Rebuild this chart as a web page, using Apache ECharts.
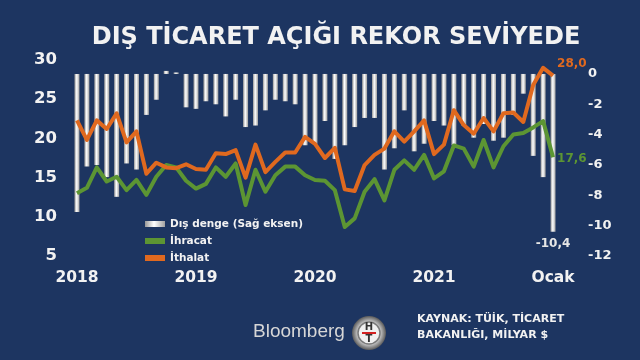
<!DOCTYPE html>
<html>
<head>
<meta charset="utf-8">
<script src="https://cdn.jsdelivr.net/npm/echarts@6/dist/echarts.min.js"></script>
<style>
html,body{margin:0;padding:0;background:#1d3561;}
#chart{width:640px;height:360px;}
</style>
</head>
<body>
<div id="chart"></div>
<script>
// Months Jan 2018 .. Jan 2022
var categories = [
 '2018-01','2018-02','2018-03','2018-04','2018-05','2018-06','2018-07','2018-08','2018-09','2018-10','2018-11','2018-12',
 '2019-01','2019-02','2019-03','2019-04','2019-05','2019-06','2019-07','2019-08','2019-09','2019-10','2019-11','2019-12',
 '2020-01','2020-02','2020-03','2020-04','2020-05','2020-06','2020-07','2020-08','2020-09','2020-10','2020-11','2020-12',
 '2021-01','2021-02','2021-03','2021-04','2021-05','2021-06','2021-07','2021-08','2021-09','2021-10','2021-11','2021-12',
 '2022-01'
];
// x tick labels (category index -> text)
var xTickIndex = [0, 12, 24, 36, 48];
var xTickLabels = ['2018', '2019', '2020', '2021', 'Ocak'];

// Exports (İhracat), billion $
var ihracat = [
 13.0,13.7,16.3,14.5,15.1,13.4,14.7,12.8,15.1,16.6,16.3,14.6,
 13.6,14.2,16.3,15.1,16.8,11.5,16.0,13.2,15.3,16.4,16.4,15.3,
 14.7,14.6,13.4,8.7,9.8,13.2,14.8,12.1,16.0,17.2,16.0,17.9,
 14.9,15.8,19.1,18.7,16.4,19.8,16.3,19.0,20.5,20.7,21.4,22.2,
 17.6
];
// Imports (İthalat), billion $
var ithalat = [
 22.3,19.8,22.3,21.2,23.2,19.5,20.9,15.5,16.9,16.3,16.2,16.7,
 16.1,16.0,18.1,18.0,18.5,15.0,19.2,15.7,17.0,18.2,18.2,20.2,
 19.3,17.5,18.8,13.5,13.3,16.6,17.9,18.7,20.9,19.6,20.9,22.3,
 18.0,19.2,23.6,21.7,20.6,22.6,20.9,23.2,23.3,22.1,26.8,29.0,
 28.0
];
// Trade balance (Dış denge), right axis
var disDenge = [
 -9.1,-6.1,-6.0,-6.8,-8.1,-5.9,-6.3,-2.7,-1.7,0.2,0.1,-2.2,
 -2.3,-1.8,-2.0,-2.8,-1.7,-3.5,-3.4,-2.4,-1.7,-1.8,-2.0,-4.7,
 -4.6,-3.1,-5.6,-4.7,-3.5,-2.9,-2.9,-6.3,-4.9,-2.4,-5.1,-4.6,
 -3.1,-3.4,-4.7,-3.4,-4.2,-3.3,-4.4,-4.2,-2.7,-1.3,-5.4,-6.8,
 -10.4
];
var leftTicks = [5, 30, 5];      // min, max, interval
var rightTicks = [-12, 0, 2];    // min, last label, interval

var BG = '#1d3561';
var ORANGE = '#e0691f';
var GREEN = '#5c9533';
var WHITE = '#f2f2f2';
var FONT = '"DejaVu Sans", Verdana, sans-serif';

function fmt(v){ return Number(v).toFixed(1).replace('.', ','); }

var barGrad = new echarts.graphic.LinearGradient(0, 0, 1, 0, [
  {offset: 0, color: '#979797'},
  {offset: 0.45, color: '#ffffff'},
  {offset: 1, color: '#a0a0a0'}
]);

var barData = disDenge.map(function(v, i){
  if (i === disDenge.length - 1) {
    return {value: v, label: {show: true, position: 'bottom', distance: 6,
      formatter: function(p){ return fmt(p.value); },
      color: '#e6e6e6', fontFamily: FONT, fontWeight: 'bold', fontSize: 12}};
  }
  return v;
});

var chart = echarts.init(document.getElementById('chart'), null, {renderer: 'canvas'});
chart.setOption({
  backgroundColor: BG,
  animation: false,
  title: {
    text: 'DIŞ TİCARET AÇIĞI REKOR SEVİYEDE',
    left: 331, top: 21, textAlign: 'center',
    textStyle: {color: WHITE, fontFamily: FONT, fontWeight: 'bold', fontSize: 24}
  },
  legend: {
    orient: 'vertical', left: 140, top: 213,
    itemWidth: 20, itemHeight: 6, itemGap: 5,
    textStyle: {color: WHITE, fontFamily: FONT, fontWeight: 'bold', fontSize: 10.5, lineHeight: 12},
    data: [
      {name: 'Dış denge (Sağ eksen)', icon: 'rect', itemStyle: {color: barGrad}},
      {name: 'İhracat', icon: 'rect', itemStyle: {color: GREEN}},
      {name: 'İthalat', icon: 'rect', itemStyle: {color: ORANGE}}
    ]
  },
  grid: {left: 72, right: 82, top: 60, bottom: 104},
  xAxis: {
    type: 'category', data: categories, boundaryGap: true,
    axisLine: {show: false}, axisTick: {show: false}, splitLine: {show: false},
    axisLabel: {
      interval: 0, margin: 14,
      color: WHITE, fontFamily: FONT, fontWeight: 'bold', fontSize: 15.5,
      formatter: function(v, idx){
        var k = xTickIndex.indexOf(idx);
        return k >= 0 ? xTickLabels[k] : '';
      }
    }
  },
  yAxis: [
    {
      type: 'value', position: 'left',
      min: leftTicks[0], max: leftTicks[1], interval: leftTicks[2],
      axisLine: {show: false}, axisTick: {show: false}, splitLine: {show: false},
      axisLabel: {margin: 15, color: WHITE, fontFamily: FONT, fontWeight: 'bold', fontSize: 16.5}
    },
    {
      type: 'value', position: 'right',
      min: rightTicks[0], max: 0.92, interval: rightTicks[2],
      axisLine: {show: false}, axisTick: {show: false}, splitLine: {show: false},
      axisLabel: {
        margin: 30, color: WHITE, fontFamily: FONT, fontWeight: 'bold', fontSize: 13,
        formatter: function(v){
          return (v <= rightTicks[1] && Math.abs(v % rightTicks[2]) < 1e-6) ? String(v) : '';
        }
      }
    }
  ],
  series: [
    {
      name: 'Dış denge (Sağ eksen)', type: 'bar', yAxisIndex: 1,
      data: barData, barWidth: 5,
      itemStyle: {color: barGrad},
      z: 1
    },
    {
      name: 'İhracat', type: 'line', yAxisIndex: 0, data: ihracat,
      showSymbol: false, symbol: 'none',
      lineStyle: {color: GREEN, width: 4, join: 'round'},
      itemStyle: {color: GREEN},
      endLabel: {show: true, distance: 4, offset: [0, 2],
        formatter: function(p){ return fmt(p.value); },
        color: GREEN, fontFamily: FONT, fontWeight: 'bold', fontSize: 12},
      z: 3
    },
    {
      name: 'İthalat', type: 'line', yAxisIndex: 0, data: ithalat,
      showSymbol: false, symbol: 'none',
      lineStyle: {color: ORANGE, width: 4, join: 'round'},
      itemStyle: {color: ORANGE},
      endLabel: {show: true, distance: 4, offset: [0, -12],
        formatter: function(p){ return fmt(p.value); },
        color: ORANGE, fontFamily: FONT, fontWeight: 'bold', fontSize: 12},
      z: 4
    }
  ],
  graphic: [
    {type: 'text', left: 253, top: 322,
     style: {text: 'Bloomberg', fill: '#d6d6d6', font: '19px "Liberation Sans", Arial, sans-serif'}},
    {type: 'group', left: 352, top: 316, children: [
      {type: 'circle', shape: {cx: 17, cy: 17, r: 17},
       style: {fill: new echarts.graphic.RadialGradient(0.5, 0.5, 0.5, [
         {offset: 0, color: '#f5f5f5'}, {offset: 0.7, color: '#bdbdbd'}, {offset: 1, color: '#5a5a5a'}])}},
      {type: 'circle', shape: {cx: 17, cy: 17, r: 11},
       style: {fill: '#f0f0f0', stroke: '#7a7a7a', lineWidth: 1.5}},
      {type: 'text', x: 17, y: 11, style: {text: 'H', fill: '#333', font: 'bold 10px "DejaVu Sans"', align: 'center', verticalAlign: 'middle'}},
      {type: 'rect', shape: {x: 10, y: 16, width: 14, height: 2}, style: {fill: '#d32020'}},
      {type: 'text', x: 17, y: 23, style: {text: 'T', fill: '#333', font: 'bold 10px "DejaVu Sans"', align: 'center', verticalAlign: 'middle'}}
    ]},
    {type: 'text', left: 417, top: 314,
     style: {text: 'KAYNAK: TÜİK, TİCARET', fill: WHITE, font: 'bold 11px "DejaVu Sans"'}},
    {type: 'text', left: 417, top: 330,
     style: {text: 'BAKANLIĞI, MİLYAR $', fill: WHITE, font: 'bold 11px "DejaVu Sans"'}}
  ]
});
</script>
</body>
</html>
